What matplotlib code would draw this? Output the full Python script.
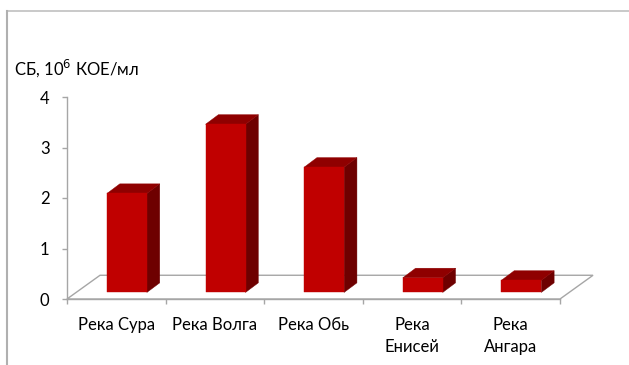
import numpy as np
import matplotlib.pyplot as plt
from matplotlib.patches import Polygon
from matplotlib.lines import Line2D

plt.rcParams['font.family'] = ['Lato', 'DejaVu Sans']

rivers = ['Река Сура', 'Река Волга', 'Река Обь', 'Река\nЕнисей', 'Река\nАнгара']
values = [1.96, 3.33, 2.48, 0.29, 0.24]
yticks = [0, 1, 2, 3, 4]
ylabel = 'СБ, 10$^6$ КОЕ/мл'

front_col = '#c00000'
top_col = '#8f0000'
side_col = '#6e0000'
gray = '#a6a6a6'

# fake 3d look, offsets in data units
floor_dx, floor_dy = 0.335, 0.47
shift_x, shift_y = 0.108, 0.13
bar_dx, bar_dy = 0.13, 0.19
bar_w = 0.405

fig = plt.figure(figsize=(6.29, 3.65), dpi=100)
ax = fig.add_axes([67 / 629, 66 / 365, 493 / 629, 202 / 365])
n = len(rivers)
ax.set_xlim(0, n)
ax.set_ylim(0, 4)

# floor
floor = Polygon([(0, 0), (n, 0), (n + floor_dx, floor_dy), (floor_dx, floor_dy)],
                closed=True, facecolor='none', edgecolor=gray, lw=1.0,
                clip_on=False, zorder=1)
ax.add_patch(floor)

for i, v in enumerate(values):
    x0 = i + 0.5 - bar_w / 2 + shift_x
    y0 = shift_y
    x1 = x0 + bar_w
    y1 = y0 + v
    front = [(x0, y0), (x1, y0), (x1, y1), (x0, y1)]
    top = [(x0, y1), (x1, y1), (x1 + bar_dx, y1 + bar_dy), (x0 + bar_dx, y1 + bar_dy)]
    side = [(x1, y0), (x1 + bar_dx, y0 + bar_dy), (x1 + bar_dx, y1 + bar_dy), (x1, y1)]
    for pts, c in ((side, side_col), (top, top_col), (front, front_col)):
        ax.add_patch(Polygon(pts, closed=True, facecolor=c, edgecolor=c,
                             lw=0.3, clip_on=False, zorder=3))

for s in ('top', 'right'):
    ax.spines[s].set_visible(False)
for s in ('left', 'bottom'):
    ax.spines[s].set_color(gray)
    ax.spines[s].set_linewidth(1.0)

ax.set_yticks(yticks)
ax.tick_params(axis='y', direction='out', length=3.6, width=1.0, color=gray,
               pad=9, labelsize=12, labelcolor='black')
ax.set_xticks(np.arange(n + 1))
ax.set_xticklabels([])
ax.set_xticks(np.arange(n) + 0.5, minor=True)
ax.set_xticklabels(rivers, minor=True, linespacing=1.45)
ax.tick_params(axis='x', which='major', direction='out', length=3.6, width=1.0, color=gray)
ax.tick_params(axis='x', which='minor', length=0, pad=13, labelsize=12, labelcolor='black')
ax.patch.set_visible(False)

fig.text(14 / 629, 1 - 68 / 365, ylabel, ha='left', va='center', fontsize=12)

# chart frame
fig.add_artist(Line2D([7 / 629, 1], [1 - 11 / 365, 1 - 11 / 365], color='#c0c0c0', lw=1.2))
fig.add_artist(Line2D([7 / 629, 7 / 629], [0, 1 - 11 / 365], color='#b0b0b0', lw=1.5))

fig.savefig('out.png', dpi=100)
